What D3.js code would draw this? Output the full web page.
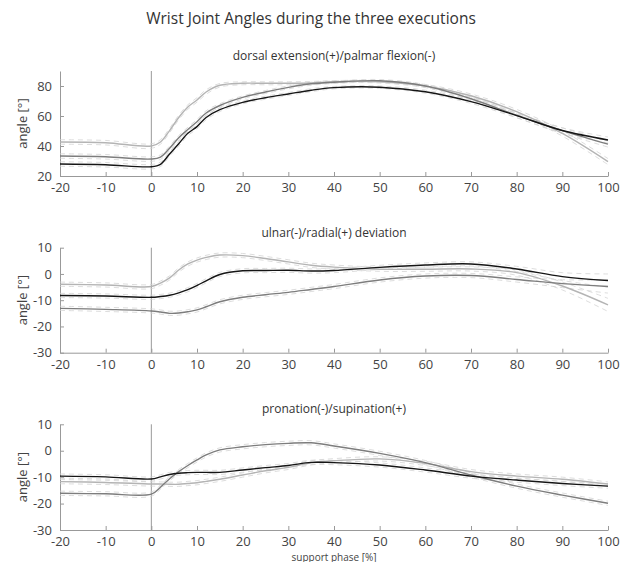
<!DOCTYPE html>
<html>
<head>
<meta charset="utf-8">
<script src="https://cdn.jsdelivr.net/npm/d3@7"></script>
<style>
body{margin:0;background:#fff}
text{font-family:"Open Sans",sans-serif}
</style>
</head>
<body>
<svg width="622" height="562"></svg>
<script>
"use strict";
// support phase samples, shared by every series
const phase = [-20,-10,0,2,4,6,8,10,12,15,20,25,30,35,40,50,60,70,80,90,100];

// dorsal extension(+)/palmar flexion(-)
const dorsalBlack = [28,27.5,26.2,27.8,34.7,41.5,48.5,52.9,59,64.2,69.1,72.2,74.7,77.2,78.9,79.2,76.2,69.6,60.3,50.3,44];
const dorsalMid   = [33.3,32.8,31.3,32.6,38.5,45.5,51,56.2,62,67,72.4,76,79.1,81.5,82.5,83.5,80,71.5,60.5,50.3,41.3];
const dorsalLight = [42.7,42.2,40,42.7,50.3,59,66,70.7,76,80.5,81.8,81.8,81.8,82,82.8,82.8,80,73.5,62.9,48.4,29.6];
const dorsalSpread = [1.5,1.5,1.5,1.5,1.5,1.5,1.5,1.5,1.5,1.2,1,1,1,1,0.8,0.8,1,1.2,1.5,1.8,2];

// ulnar(-)/radial(+) deviation
const ulnarBlack = [-8.2,-8.4,-8.9,-8.6,-8.1,-7.2,-6,-4.4,-2.6,-0.2,1.2,1.3,1.4,1.1,1.3,2.5,3.4,3.8,1.9,-1,-2.5];
const ulnarMid   = [-13.1,-13.5,-14.1,-14.5,-15,-14.9,-14.4,-13.7,-12.5,-10.6,-8.9,-7.9,-7,-5.9,-4.8,-2.3,-0.8,-0.6,-2.1,-3.7,-4.8];
const ulnarLight = [-3.9,-4.2,-4.8,-3.5,-1.5,1.5,3.8,5.3,6.3,7.2,7,5.9,4.6,3.3,2.6,1.8,1.8,1.9,0.5,-4.6,-11.8];
const ulnarSpread = [0.8,0.8,0.8,0.8,0.8,0.8,0.8,0.8,0.8,0.8,0.8,0.8,0.8,0.8,0.8,0.8,0.8,0.8,1,1.5,2.5];

// pronation(-)/supination(+)
const pronBlack = [-9.6,-9.9,-10.7,-9.9,-9,-8.5,-8.3,-8.2,-8.2,-8.2,-7.3,-6.4,-5.6,-4.4,-4.5,-5.4,-7.3,-9.6,-11.1,-12.4,-13.4];
const pronMid   = [-16.1,-16.3,-16.4,-13.8,-10.6,-7.9,-5.6,-3.5,-1.6,0.3,1.5,2.3,2.8,3,1.8,-1,-4.5,-9.2,-13.4,-16.8,-19.9];
const pronLight = [-11.7,-12,-12.6,-12.6,-12.7,-12.7,-12.4,-12.1,-11.6,-10.8,-9.2,-7.6,-6.3,-4.6,-3.8,-3.1,-4.8,-7.9,-9.6,-10.8,-12.6];
const pronSpread = [0.8,0.8,0.8,0.8,0.8,0.8,0.8,0.8,0.8,0.8,0.8,0.8,0.8,0.8,0.8,0.8,0.8,0.8,0.8,0.8,0.8];

const xTicks = [-20,-10,0,10,20,30,40,50,60,70,80,90,100];
const dorsalTicks = [20,40,60,80];
const devTicks = [-30,-20,-10,0,10];

const panels = [
  {title:"dorsal extension(+)/palmar flexion(-)", yDom:[20,90], yTicks:dorsalTicks, top:71, bottom:176,
   series:[dorsalLight,dorsalMid,dorsalBlack], spread:dorsalSpread},
  {title:"ulnar(-)/radial(+) deviation", yDom:[-30,10], yTicks:devTicks, top:247.7, bottom:352.7,
   series:[ulnarLight,ulnarMid,ulnarBlack], spread:ulnarSpread},
  {title:"pronation(-)/supination(+)", yDom:[-30,10], yTicks:devTicks, top:424.3, bottom:530,
   series:[pronLight,pronMid,pronBlack], spread:pronSpread}
];
const colors = ["#b4b4b4","#7d7d7d","#151515"];

var svg = d3.select("svg");
var x = d3.scaleLinear().domain([-20,100]).range([60,608]);
var plain = function(d){return String(d)}; //hyphen minus like the original

svg.append("text").attr("x",311).attr("y",24).attr("text-anchor","middle")
  .attr("font-size",15.5).attr("fill","#333").text("Wrist Joint Angles during the three executions");

panels.forEach(function(p){
  var y = d3.scaleLinear().domain(p.yDom).range([p.bottom,p.top]);
  var g = svg.append("g");

  //subtitle
  g.append("text").attr("x",334).attr("y",p.top-11).attr("text-anchor","middle")
   .attr("font-size",12).attr("fill","#333").text(p.title);

  //axes, matlab style ticks pointing inwards
  var xa = g.append("g").attr("transform","translate(0,"+p.bottom+")")
    .call(d3.axisBottom(x).tickValues(xTicks).tickFormat(plain).tickSize(-4).tickSizeOuter(0).tickPadding(7));
  var ya = g.append("g").attr("transform","translate(60,0)")
    .call(d3.axisLeft(y).tickValues(p.yTicks).tickFormat(plain).tickSize(-4).tickSizeOuter(0).tickPadding(8));
  [xa,ya].forEach(function(a){
    a.select(".domain").attr("stroke","#999");
    a.selectAll(".tick line").attr("stroke","#999");
    a.selectAll(".tick text").attr("fill","#444").attr("font-size",13).attr("font-family","Open Sans");
  });

  //y label
  g.append("text").attr("transform","translate(27,"+((p.top+p.bottom)/2)+") rotate(-90)")
   .attr("text-anchor","middle").attr("font-size",13).attr("fill","#444").text("angle [°]");

  //zero line
  g.append("line").attr("x1",x(0)).attr("x2",x(0)).attr("y1",p.top).attr("y2",p.bottom)
   .attr("stroke","#999").attr("stroke-width",1);

  var line = d3.line().x(function(d,i){return x(phase[i])}).y(function(d){return y(d)})
    .curve(d3.curveCatmullRom.alpha(0.5));

  //dashed spread lines
  p.series.forEach(function(s){
    [1,-1].forEach(function(sign){
      g.append("path").datum(s.map(function(v,i){return v+sign*p.spread[i]}))
       .attr("d",line).attr("fill","none").attr("stroke","#d4d4d4")
       .attr("stroke-width",0.8).attr("stroke-dasharray","5,4");
    });
  });

  //mean lines
  p.series.forEach(function(s,k){
    g.append("path").datum(s).attr("d",line).attr("fill","none")
     .attr("stroke",colors[k]).attr("stroke-width",1.4);
  });
});

svg.append("text").attr("x",334).attr("y",560.5).attr("text-anchor","middle")
  .attr("font-size",10).attr("fill","#444").text("support phase [%]");
</script>
</body>
</html>
